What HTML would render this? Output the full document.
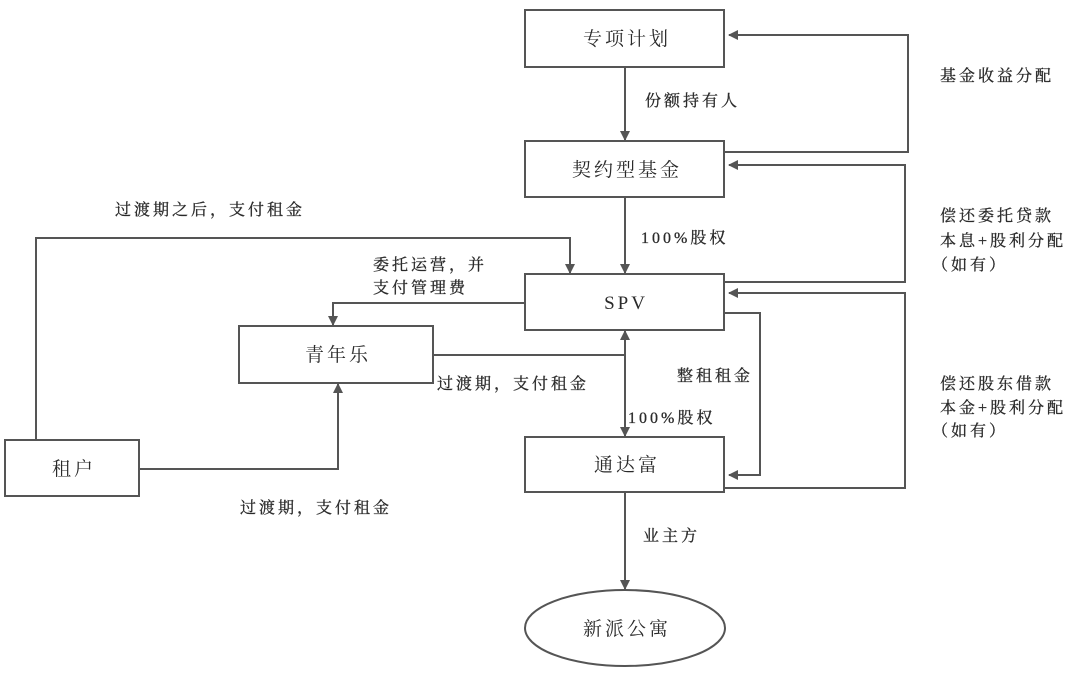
<!DOCTYPE html>
<html><head><meta charset="utf-8"><style>
body{margin:0;background:#fff;}
svg text{font-family:"Liberation Serif","Noto Serif CJK SC",serif;fill:#2a2a2a;}
.l text{letter-spacing:3px;stroke:#2a2a2a;stroke-width:0.3px;}
</style></head><body>
<svg width="1080" height="675" viewBox="0 0 1080 675" xmlns="http://www.w3.org/2000/svg">
<defs><marker id="a" markerWidth="10" markerHeight="10" refX="9" refY="5" orient="auto" markerUnits="userSpaceOnUse"><path d="M0,0 L10,5 L0,10 z" fill="#555"/></marker></defs>
<g fill="none" stroke="#555" stroke-width="2">
<rect x="525" y="10" width="199" height="57"/>
<rect x="525" y="141" width="199" height="56"/>
<rect x="525" y="274" width="199" height="56"/>
<rect x="525" y="437" width="199" height="55"/>
<rect x="239" y="326" width="194" height="57"/>
<rect x="5" y="440" width="134" height="56"/>
<ellipse cx="625" cy="628" rx="100" ry="38"/>
<path d="M625 67 V140" marker-end="url(#a)"/>
<path d="M625 197 V273" marker-end="url(#a)"/>
<path d="M724 152 H908 V35 H729" marker-end="url(#a)"/>
<path d="M724 282 H905 V165 H729" marker-end="url(#a)"/>
<path d="M724 488 H905 V293 H729" marker-end="url(#a)"/>
<path d="M724 313 H760 V475 H729" marker-end="url(#a)"/>
<path d="M625 340 V436" marker-end="url(#a)"/>
<path d="M625 420 V331" marker-end="url(#a)"/>
<path d="M525 303 H333 V325" marker-end="url(#a)"/>
<path d="M433 355 H625"/>
<path d="M36 440 V238 H570 V273" marker-end="url(#a)"/>
<path d="M139 469 H338 V384" marker-end="url(#a)"/>
<path d="M625 492 V589" marker-end="url(#a)"/>
</g>
<g font-size="19" text-anchor="middle" letter-spacing="3">
<text x="627" y="45">专项计划</text>
<text x="627" y="176">契约型基金</text>
<text x="626" y="309">SPV</text>
<text x="627" y="471">通达富</text>
<text x="338" y="361">青年乐</text>
<text x="74" y="475">租户</text>
<text x="627" y="635">新派公寓</text>
</g>
<g font-size="16" class="l">
<text x="645" y="106">份额持有人</text>
<text x="940" y="81">基金收益分配</text>
<text x="115" y="215">过渡期之后，支付租金</text>
<text x="641" y="243" letter-spacing="1">100%股权</text>
<text x="940" y="221">偿还委托贷款</text>
<text x="940" y="246" letter-spacing="1">本息+股利分配</text>
<text x="932" y="270">（如有）</text>
<text x="373" y="270">委托运营，并</text>
<text x="373" y="293">支付管理费</text>
<text x="437" y="389">过渡期，支付租金</text>
<text x="677" y="381">整租租金</text>
<text x="628" y="423" letter-spacing="1">100%股权</text>
<text x="940" y="389">偿还股东借款</text>
<text x="940" y="413" letter-spacing="1">本金+股利分配</text>
<text x="932" y="436">（如有）</text>
<text x="240" y="513">过渡期，支付租金</text>
<text x="643" y="541">业主方</text>
</g>
</svg>
</body></html>
